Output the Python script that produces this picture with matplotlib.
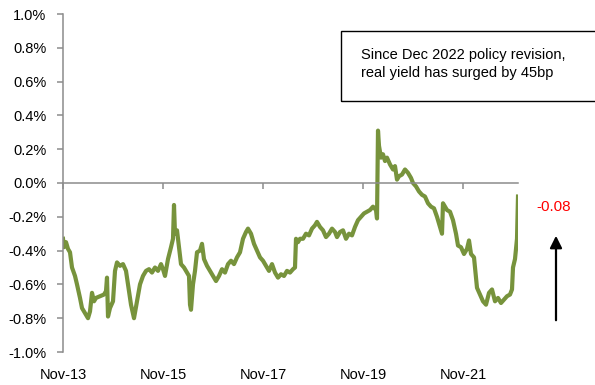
import matplotlib
matplotlib.use("Agg")
import matplotlib.pyplot as plt
import matplotlib.transforms as mtransforms
from matplotlib.patches import Rectangle, FancyArrowPatch

plt.rcParams['font.family'] = ['Liberation Sans', 'DejaVu Sans']

# time in decimal years, real yield in %
years = [2013.83, 2013.85, 2013.89, 2013.93, 2013.97, 2014.01, 2014.07, 2014.11, 2014.17, 2014.21,
         2014.27, 2014.33, 2014.37, 2014.41, 2014.45, 2014.49, 2014.57, 2014.65, 2014.69, 2014.71,
         2014.73, 2014.77, 2014.83, 2014.87, 2014.91, 2014.97, 2015.03, 2015.09, 2015.13, 2015.19,
         2015.25, 2015.31, 2015.37, 2015.43, 2015.49, 2015.55, 2015.61, 2015.67, 2015.73, 2015.79,
         2015.83, 2015.87, 2015.93, 2015.99, 2016.03, 2016.05, 2016.07, 2016.11, 2016.15, 2016.19,
         2016.25, 2016.31, 2016.35, 2016.37, 2016.39, 2016.43, 2016.47, 2016.51, 2016.57, 2016.61,
         2016.65, 2016.71, 2016.77, 2016.83, 2016.89, 2016.95, 2017.01, 2017.07, 2017.13, 2017.19,
         2017.25, 2017.31, 2017.37, 2017.43, 2017.49, 2017.53, 2017.59, 2017.65, 2017.71, 2017.77,
         2017.83, 2017.89, 2017.95, 2018.01, 2018.07, 2018.13, 2018.19, 2018.25, 2018.31, 2018.37,
         2018.43, 2018.47, 2018.49, 2018.53, 2018.57, 2018.63, 2018.69, 2018.75, 2018.81, 2018.87,
         2018.91, 2018.97, 2019.03, 2019.09, 2019.15, 2019.21, 2019.27, 2019.31, 2019.37, 2019.43,
         2019.49, 2019.55, 2019.61, 2019.67, 2019.73, 2019.79, 2019.85, 2019.91, 2019.97, 2020.03,
         2020.09, 2020.11, 2020.13, 2020.15, 2020.19, 2020.23, 2020.27, 2020.31, 2020.37, 2020.43,
         2020.47, 2020.51, 2020.55, 2020.61, 2020.67, 2020.73, 2020.79, 2020.83, 2020.89, 2020.95,
         2021.01, 2021.07, 2021.13, 2021.19, 2021.25, 2021.31, 2021.37, 2021.41, 2021.43, 2021.47,
         2021.51, 2021.57, 2021.63, 2021.69, 2021.73, 2021.79, 2021.85, 2021.91, 2021.95, 2021.99,
         2022.05, 2022.11, 2022.17, 2022.23, 2022.29, 2022.35, 2022.41, 2022.47, 2022.53, 2022.59,
         2022.65, 2022.71, 2022.77, 2022.81, 2022.83, 2022.87, 2022.91, 2022.93]
real_yield = [-0.33, -0.38, -0.35, -0.39, -0.41, -0.50, -0.55, -0.60, -0.68, -0.74,
              -0.77, -0.80, -0.76, -0.65, -0.70, -0.68, -0.67, -0.66, -0.64, -0.56,
              -0.79, -0.74, -0.70, -0.52, -0.47, -0.49, -0.48, -0.52, -0.60, -0.72,
              -0.80, -0.70, -0.60, -0.55, -0.52, -0.51, -0.53, -0.50, -0.52, -0.48,
              -0.51, -0.55, -0.45, -0.38, -0.33, -0.13, -0.30, -0.28, -0.38, -0.48,
              -0.50, -0.53, -0.55, -0.72, -0.75, -0.60, -0.52, -0.41, -0.40, -0.36,
              -0.45, -0.49, -0.52, -0.55, -0.58, -0.55, -0.51, -0.53, -0.48, -0.46,
              -0.48, -0.44, -0.41, -0.33, -0.29, -0.27, -0.30, -0.36, -0.40, -0.44,
              -0.46, -0.49, -0.52, -0.48, -0.53, -0.56, -0.54, -0.55, -0.52, -0.53,
              -0.51, -0.50, -0.33, -0.35, -0.33, -0.33, -0.30, -0.31, -0.27, -0.25,
              -0.23, -0.26, -0.28, -0.32, -0.30, -0.27, -0.29, -0.32, -0.29, -0.28,
              -0.33, -0.30, -0.31, -0.26, -0.22, -0.20, -0.18, -0.17, -0.16, -0.14,
              -0.16, -0.21, 0.31, 0.22, 0.15, 0.17, 0.13, 0.15, 0.11, 0.08,
              0.10, 0.02, 0.04, 0.05, 0.08, 0.06, 0.03, 0.00, -0.02, -0.05,
              -0.07, -0.08, -0.12, -0.14, -0.15, -0.20, -0.26, -0.30, -0.12, -0.14,
              -0.16, -0.17, -0.22, -0.30, -0.37, -0.38, -0.42, -0.39, -0.34, -0.42,
              -0.44, -0.62, -0.66, -0.70, -0.72, -0.65, -0.63, -0.70, -0.68, -0.71,
              -0.69, -0.67, -0.66, -0.63, -0.50, -0.45, -0.33, -0.08]

tick_years = [2013.833, 2015.833, 2017.833, 2019.833, 2021.833]
tick_labels = ['Nov-13', 'Nov-15', 'Nov-17', 'Nov-19', 'Nov-21']
y_ticks = [1.0, 0.8, 0.6, 0.4, 0.2, 0.0, -0.2, -0.4, -0.6, -0.8, -1.0]

note = "Since Dec 2022 policy revision,\nreal yield has surged by 45bp"
last_label = "-0.08"

W, H = 595, 385
fig = plt.figure(figsize=(W / 100, H / 100), dpi=100)
ax = fig.add_axes([63 / W, 1 - 352 / H, (518 - 63) / W, (352 - 14) / H])

ax.plot(years, real_yield, color='#77933C', lw=3.0, solid_joinstyle='round')

ax.set_xlim(2013.83, 2022.93)
ax.set_ylim(-1.0, 1.0)

grey = '#8C8C8C'
for s in ['top', 'right']:
    ax.spines[s].set_visible(False)
ax.spines['left'].set_color(grey)
ax.spines['left'].set_linewidth(1.1)
ax.spines['bottom'].set_position(('data', 0))
ax.spines['bottom'].set_color(grey)
ax.spines['bottom'].set_linewidth(1.1)

ax.set_yticks(y_ticks)
ax.set_yticklabels(['%.1f%%' % v for v in y_ticks])
ax.tick_params(axis='y', direction='out', length=4.3, width=1.1, color=grey,
               labelsize=10.5, pad=7.5, labelcolor='black')
ax.set_xticks(tick_years)
ax.tick_params(axis='x', direction='out', length=4, width=1.1, color=grey,
               labelbottom=False)

trans = mtransforms.blended_transform_factory(ax.transData, ax.transAxes)
for t, lab in zip(tick_years, tick_labels):
    ax.text(t, -0.068, lab, transform=trans, ha='center', va='center', fontsize=10.5)

# annotation box (runs off the right edge)
fig.patches.append(Rectangle((341 / W, 1 - 101 / H), (605 - 341) / W, 70 / H,
                             transform=fig.transFigure, fill=False,
                             edgecolor='black', lw=1.0))
fig.text(361 / W, 1 - 64 / H, note, ha='left', va='center', fontsize=10.5,
         linespacing=1.45)

fig.text(554 / W, 1 - 207 / H, last_label, color='red', ha='center', va='center',
         fontsize=11)
arrow = FancyArrowPatch((556 / W, 1 - 323 / H), (556 / W, 1 - 233 / H),
                        transform=fig.transFigure, arrowstyle='-|>',
                        mutation_scale=18, color='black', lw=1.6)
fig.patches.append(arrow)

fig.savefig('out.png', dpi=100)
